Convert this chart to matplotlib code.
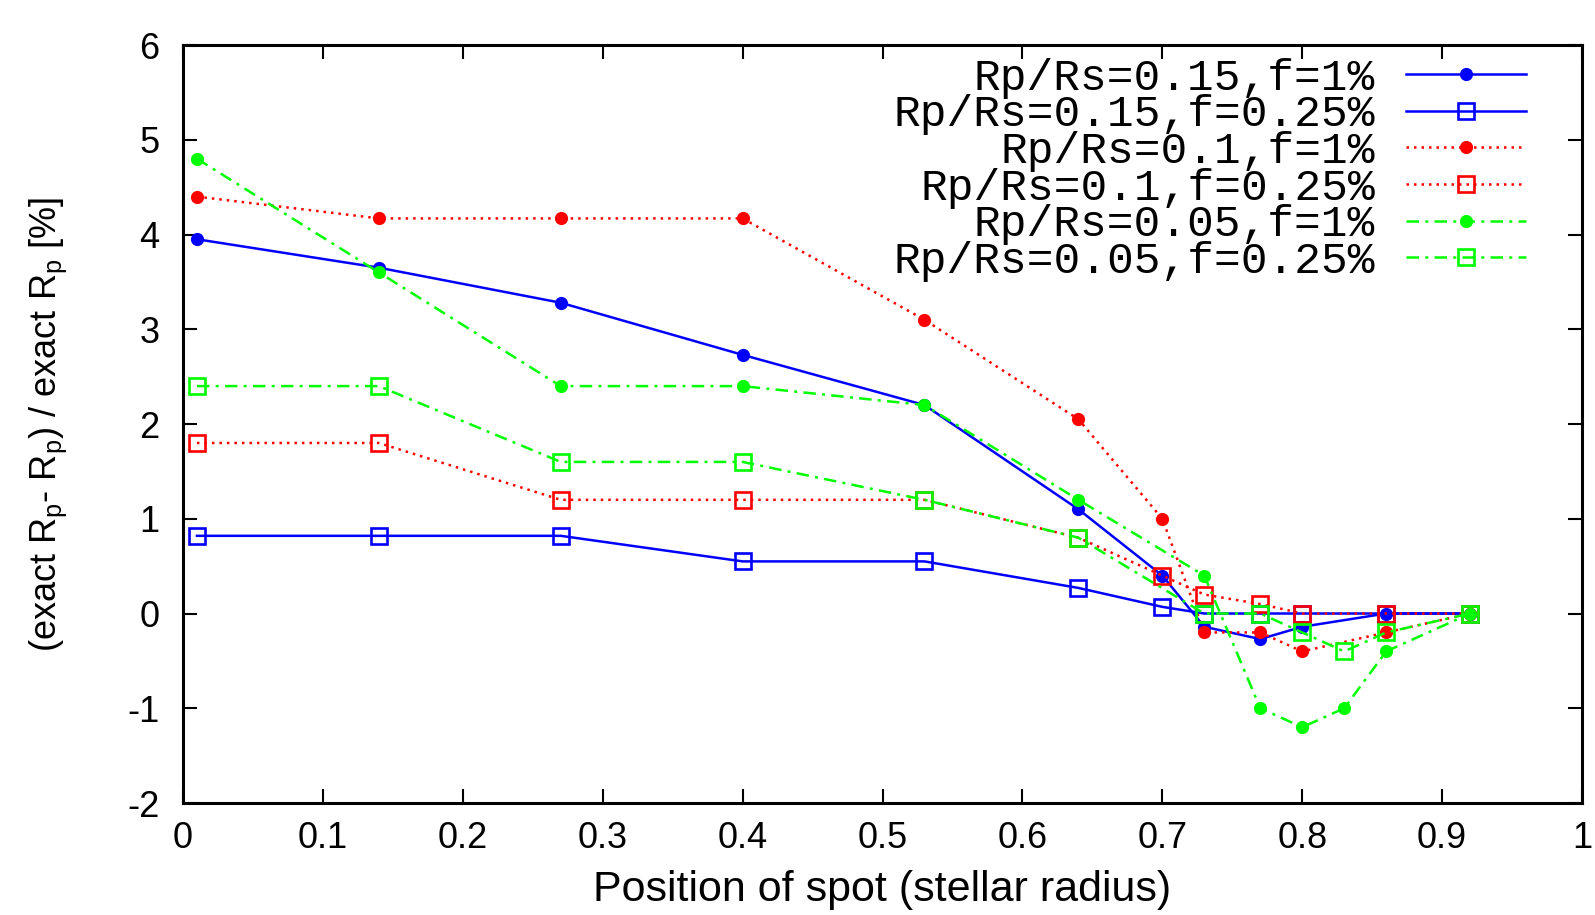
import matplotlib
matplotlib.use("Agg")
import matplotlib.pyplot as plt

plt.rcParams['font.family'] = ['Liberation Sans', 'DejaVu Sans']
plt.rcParams['mathtext.fontset'] = 'custom'
plt.rcParams['mathtext.rm'] = 'Liberation Sans'
plt.rcParams['mathtext.it'] = 'Liberation Sans'
plt.rcParams['axes.unicode_minus'] = False

# Data
x_pos = [0.01, 0.14, 0.27, 0.40, 0.53, 0.64, 0.70, 0.73, 0.77, 0.80, 0.86, 0.92]
x_pos_g1 = [0.01, 0.14, 0.27, 0.40, 0.53, 0.64, 0.73, 0.77, 0.80, 0.83, 0.86, 0.92]
x_pos_g2 = [0.01, 0.14, 0.27, 0.40, 0.53, 0.64, 0.73, 0.77, 0.80, 0.83, 0.86, 0.92]

blue_f1 = [3.95, 3.65, 3.28, 2.73, 2.20, 1.10, 0.40, -0.14, -0.27, -0.14, 0.0, 0.0]
blue_f025 = [0.82, 0.82, 0.82, 0.55, 0.55, 0.27, 0.07, 0.0, 0.0, 0.0, 0.0, 0.0]
red_f1 = [4.40, 4.17, 4.17, 4.17, 3.10, 2.05, 1.00, -0.20, -0.20, -0.40, -0.20, 0.0]
red_f025 = [1.80, 1.80, 1.20, 1.20, 1.20, 0.80, 0.40, 0.20, 0.10, 0.0, 0.0, 0.0]
green_f1 = [4.80, 3.60, 2.40, 2.40, 2.20, 1.20, 0.40, -1.00, -1.20, -1.00, -0.40, 0.0]
green_f025 = [2.40, 2.40, 1.60, 1.60, 1.20, 0.80, 0.0, 0.0, -0.20, -0.40, -0.20, 0.0]

labels = ['Rp/Rs=0.15,f=1%', 'Rp/Rs=0.15,f=0.25%', 'Rp/Rs=0.1,f=1%',
          'Rp/Rs=0.1,f=0.25%', 'Rp/Rs=0.05,f=1%', 'Rp/Rs=0.05,f=0.25%']
xtick_labels = ['0', '0.1', '0.2', '0.3', '0.4', '0.5', '0.6', '0.7', '0.8', '0.9', '1']

fig = plt.figure(figsize=(15.95, 9.15), dpi=100)
ax = fig.add_axes([0.1147, 0.1224, 0.8772, 0.8284])

blue, red, green = '#0000ff', '#ff0000', '#00ff00'
dotted = (0, (1.0, 2.0))
dashdot = (0, (5, 2.5, 1.2, 2.5))
lw = 1.8
circ = dict(marker='o', markersize=9.5, markeredgewidth=0)
sq = dict(marker='s', markersize=11, markerfacecolor='none', markeredgewidth=1.9)

ax.plot(x_pos, blue_f1, color=blue, lw=lw, ls='-', label=labels[0], **circ)
ax.plot(x_pos, blue_f025, color=blue, lw=lw, ls='-', label=labels[1], **sq)
ax.plot(x_pos, red_f1, color=red, lw=lw, ls=dotted, label=labels[2], **circ)
ax.plot(x_pos, red_f025, color=red, lw=lw, ls=dotted, label=labels[3], **sq)
ax.plot(x_pos_g1, green_f1, color=green, lw=lw, ls=dashdot, label=labels[4], **circ)
ax.plot(x_pos_g2, green_f025, color=green, lw=lw, ls=dashdot, label=labels[5], **sq)

ax.set_xlim(0, 1)
ax.set_ylim(-2, 6)
ax.set_xticks([i / 10 for i in range(11)])
ax.set_xticklabels(xtick_labels)
ax.set_yticks(range(-2, 7))
ax.tick_params(direction='in', length=10, width=1.5, top=True, right=True,
               labelsize=26)
ax.tick_params(axis='x', pad=13)
ax.tick_params(axis='y', pad=17)
for s in ax.spines.values():
    s.set_linewidth(2.2)

ax.set_xlabel('Position of spot (stellar radius)', fontsize=31, labelpad=10)
ax.set_ylabel(r'(exact R$_\mathrm{p}$- R$_\mathrm{p}$) / exact R$_\mathrm{p}$ [%]',
              fontsize=26, labelpad=42)

leg = ax.legend(loc='upper right', bbox_to_anchor=(0.96, 0.983), frameon=False,
                markerfirst=False, borderpad=0, borderaxespad=0,
                handlelength=2.7, handletextpad=0.7, labelspacing=-0.1,
                prop={'family': 'Liberation Mono', 'size': 32})

fig.savefig('out.png', dpi=100)
